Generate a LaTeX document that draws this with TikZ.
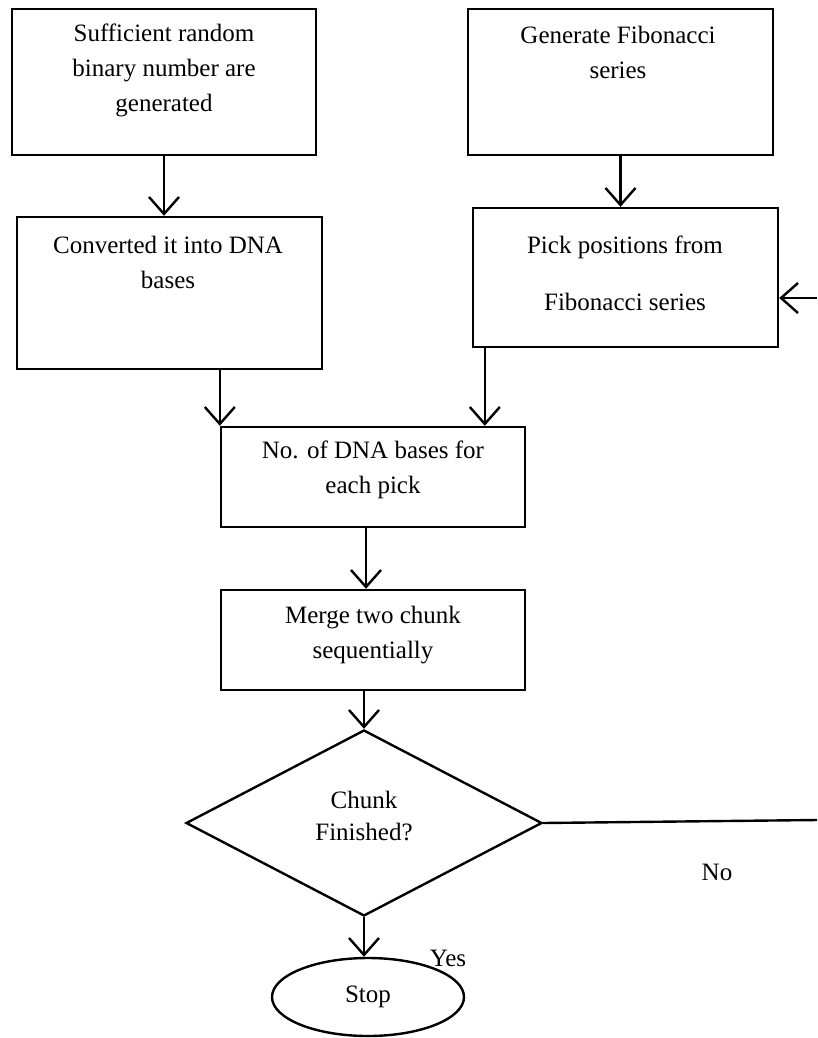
\documentclass[tikz,border=0pt]{standalone}
\usepackage{fontspec}
\setmainfont{Liberation Serif}
\usetikzlibrary{shapes.geometric,arrows.meta}

\begin{document}
\begin{tikzpicture}[x=1pt,y=-1pt,line width=2.4pt,font=\fontsize{25}{35}\selectfont,
  box/.style={draw,rectangle,inner sep=0pt},
  txt/.style={align=center,inner sep=0pt},
  arr/.style={-{Straight Barb[length=17pt,width=30pt,line width=2.4pt]}}]
\useasboundingbox (0,0) rectangle (817,1038);
% boxes
\node[box,minimum width=304pt,minimum height=146pt] (rand) at (164,82) {};
\node[box,minimum width=305pt,minimum height=146pt] (fib) at (620.5,82) {};
\node[box,minimum width=305pt,minimum height=152pt] (dna) at (169.5,293) {};
\node[box,minimum width=305pt,minimum height=139pt] (pick) at (625.5,277.5) {};
\node[box,minimum width=304pt,minimum height=100pt] (bases) at (373,477) {};
\node[box,minimum width=304pt,minimum height=100pt] (merge) at (373,640) {};
\node[diamond,draw,minimum width=356pt,minimum height=186pt,inner sep=0pt] (check) at (364,823) {};
\node[ellipse,draw,minimum width=192pt,minimum height=78pt,inner sep=0pt] (stop) at (368,997) {Stop};
% texts
\node[txt] (randtxt) at (164,70) {Sufficient random\\binary number are\\generated};
\node[txt] (fibtxt) at (618,52) {Generate Fibonacci\\series};
\node[txt] (dnatxt) at (168,262) {Converted it into DNA\\bases};
\node[txt] (picktxt) at (625,273.5) {Pick positions from\\[22pt]Fibonacci series};
\node[txt] (basestxt) at (373,470) {No. of DNA bases for\\each pick};
\node[txt] (mergetxt) at (373,635) {Merge two chunk\\sequentially};
\node[txt,font=\fontsize{25}{32}\selectfont] (checktxt) at (364,816) {Chunk\\Finished?};
\node[txt] (no) at (717,872) {No};
\node[txt] (yes) at (448,958) {Yes};
% connectors
\coordinate (pickout) at ([xshift=13pt]pick.south west);
\coordinate (edgelow) at (817,820);
\coordinate (edgeup) at (817,298);
\draw[arr] (rand.south) -- (rand.south |- dna.north);
\draw[arr] (fib.south) -- (fib.south |- pick.north);
\draw[arr] (dna.south -| bases.north west) -- (bases.north west);
\draw[arr] (pickout) -- (pickout |- bases.north);
\draw[arr] ([xshift=-7pt]bases.south) -- ([xshift=-7pt]merge.north);
\draw[arr] (check.north |- merge.south) -- (check.north);
\draw[arr] (check.south) -- (check.south |- stop.north);
\draw (check.east) -- (edgelow);
\draw[arr] (edgeup) -- (edgeup -| pick.east);
\end{tikzpicture}
\end{document}
